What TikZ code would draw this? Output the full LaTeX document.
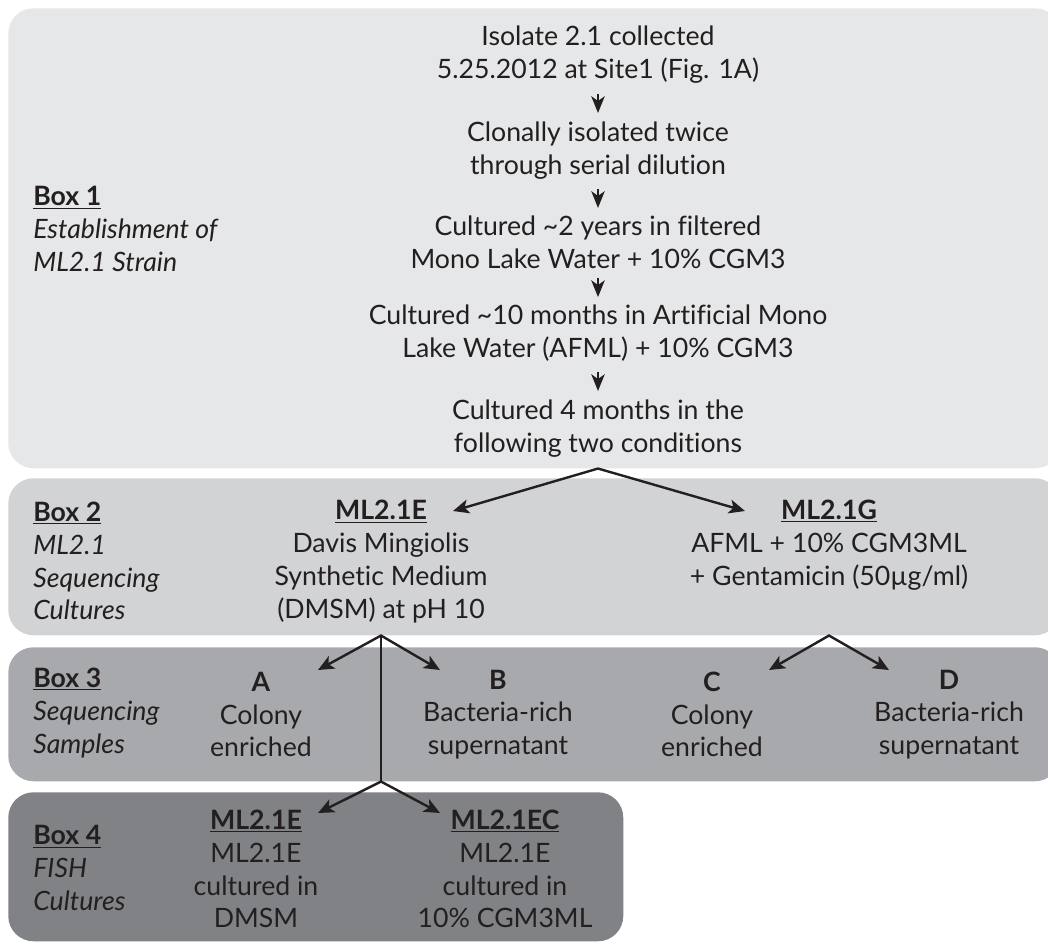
\documentclass[tikz,border=0pt]{standalone}
\usepackage{fontspec}
\setmainfont{Lato}[Ligatures=NoCommon]
\usetikzlibrary{arrows.meta,calc}
\definecolor{bxA}{HTML}{E6E7E8}
\definecolor{bxB}{HTML}{D1D3D4}
\definecolor{bxC}{HTML}{A7A9AC}
\definecolor{bxD}{HTML}{808285}
\definecolor{ink}{HTML}{231F20}
\begin{document}
\begin{tikzpicture}[x=0.75pt,y=-0.75pt,
  font=\fontsize{20}{24.6}\selectfont,
  panel/.style={rounded corners=19pt, inner sep=0pt, anchor=north west, draw=none},
  txt/.style={align=center, inner sep=0pt, text=ink},
  lab/.style={align=left, inner sep=0pt, text=ink, anchor=west},
  vtip/.style={draw=ink, line width=1.8pt, -{Stealth[length=12.5pt,width=10pt,inset=3.5pt]}},
  br/.style={draw=ink, line width=1.8pt, line join=miter},
  tipB/.style={{Stealth[length=12pt,width=10.5pt,inset=3pt]}-{Stealth[length=12pt,width=10.5pt,inset=3pt]}}
]
\useasboundingbox (0,0) rectangle (1048,943);
\fill[white] (0,0) rectangle (1048,943);
% panels
\node[panel, fill=bxA, minimum width=789pt, minimum height=345pt] (box1) at (8,8) {};
\node[panel, fill=bxB, minimum width=789pt, minimum height=117.75pt] (box2) at (8,478) {};
\node[panel, fill=bxC, minimum width=789pt, minimum height=100.5pt] (box3) at (8,647) {};
\node[panel, fill=bxD, minimum width=461.25pt, minimum height=111.75pt] (box4) at (8,792) {};
% box labels
\node[lab] (lab1) at (33,229) {\underline{\textbf{Box 1}}\\\textit{Establishment of}\\\textit{ML2.1 Strain}};
\node[lab] (lab2) at (33,561) {\underline{\textbf{Box 2}}\\\textit{ML2.1}\\\textit{Sequencing}\\\textit{Cultures}};
\node[lab] (lab3) at (33,713) {\underline{\textbf{Box 3}}\\\textit{Sequencing}\\\textit{Samples}};
\node[lab] (lab4) at (33,868) {\underline{\textbf{Box 4}}\\\textit{FISH}\\\textit{Cultures}};
% box 1 steps
\node[txt] (b1a) at (598,55) {Isolate 2.1 collected\\5.25.2012 at Site1 (Fig. 1A)};
\node[txt] (b1b) at (598,151) {Clonally isolated twice\\through serial dilution};
\node[txt] (b1c) at (598,242.5) {Cultured \textasciitilde2 years in filtered\\Mono Lake Water + 10\% CGM3};
\node[txt] (b1d) at (598,333.5) {Cultured \textasciitilde10 months in Artificial Mono\\Lake Water (AFML) + 10\% CGM3};
\node[txt] (b1e) at (598,429) {Cultured 4 months in the\\following two conditions};
\foreach \p/\q in {b1a/b1b,b1b/b1c,b1c/b1d,b1d/b1e}{
  \path (\p.south) -- (\q.north) coordinate[pos=0.5] (m-\p);
  \draw[vtip] ($(m-\p)+(0,-9)$) -- ($(m-\p)+(0,10)$);
}
% box 2
\node[txt] (e2) at (381,561.5) {\underline{\textbf{ML2.1E}}\\Davis Mingiolis\\Synthetic Medium\\(DMSM) at pH 10};
\node[txt] (g2) at (829,545) {\underline{\textbf{ML2.1G}}\\AFML + 10\% CGM3ML\\+ Gentamicin (50µg/ml)};
% box 3
\node[txt] (sA) at (261,714.5) {\textbf{A}\\Colony\\enriched};
\node[txt] (sB) at (498,714.5) {\textbf{B}\\Bacteria-rich\\supernatant};
\node[txt] (sC) at (712,714.5) {\textbf{C}\\Colony\\enriched};
\node[txt] (sD) at (949,714.5) {\textbf{D}\\Bacteria-rich\\supernatant};
% box 4
\node[txt] (e4) at (256,869) {\underline{\textbf{ML2.1E}}\\ML2.1E\\cultured in\\DMSM};
\node[txt] (ec4) at (505,869) {\underline{\textbf{ML2.1EC}}\\ML2.1E\\cultured in\\10\% CGM3ML};
% connectors
\coordinate (ap1) at (b1e |- box1.south);
\coordinate (tE2) at (453,511);
\coordinate (tG2) at (745,511);
\draw[br, tipB] (tE2) -- (ap1) -- (tG2);
\coordinate (ap2) at (e2 |- box2.south);
\coordinate (tA) at (318,670);
\coordinate (tB) at (440,670);
\draw[br, tipB] (tA) -- (ap2) -- (tB);
\coordinate (sp) at (e2 |- box3.south);
\draw[br] (ap2) -- (sp);
\coordinate (tE4) at (318,813);
\coordinate (tEC4) at (440,813);
\draw[br, tipB] (tE4) -- (sp) -- (tEC4);
\coordinate (ap3) at (g2 |- box2.south);
\coordinate (tC) at (769,670);
\coordinate (tD) at (889,670);
\draw[br, tipB] (tC) -- (ap3) -- (tD);
\end{tikzpicture}
\end{document}
